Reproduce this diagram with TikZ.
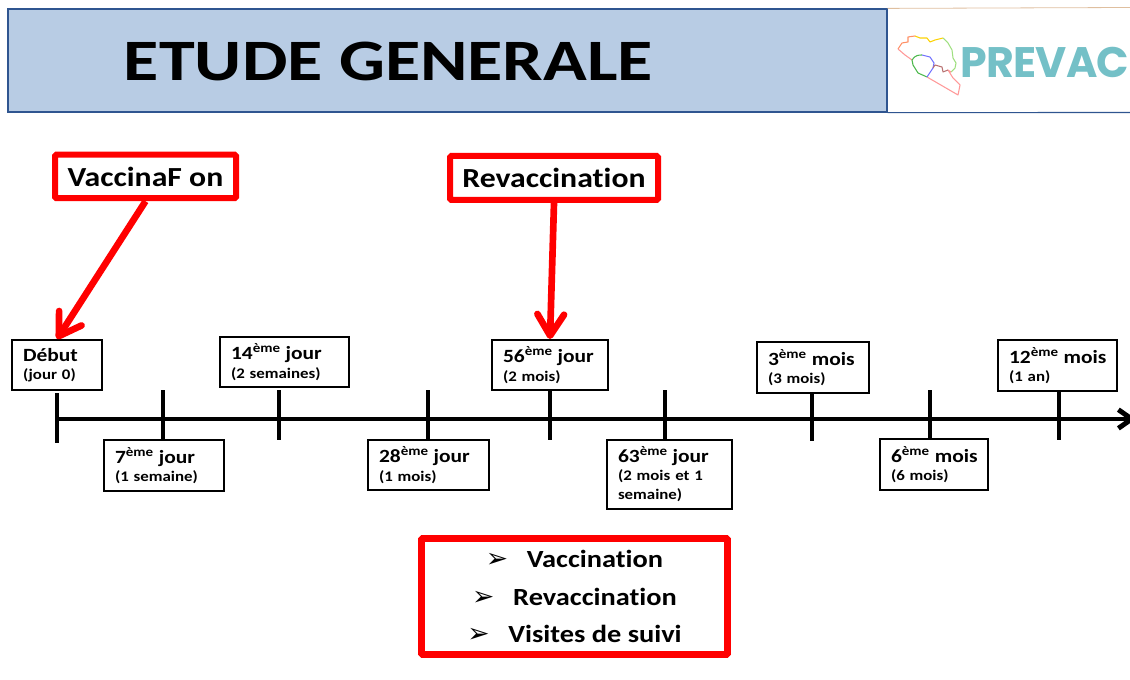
\documentclass[tikz,border=0pt]{standalone}
\usepackage{fontspec}
\setmainfont[FakeStretch=1.15,Ligatures=NoCommon]{Carlito}
\newfontfamily\titlefont[FakeStretch=1.23,Ligatures=NoCommon]{Carlito}
\newfontfamily\logofont[LetterSpace=-2]{Poppins}
\newfontfamily\symbfont{DejaVu Sans}
\usetikzlibrary{arrows.meta}
\definecolor{titlefill}{HTML}{B8CCE4}
\definecolor{titleline}{HTML}{2F5590}
\definecolor{logoteal}{HTML}{74C0C7}
\newcommand{\eme}{\textsuperscript{ème}}
\newcommand{\bigline}[1]{\mbox{\fontsize{14pt}{13.8pt}\selectfont #1}}
\newcommand{\smallline}[1]{\mbox{\fontsize{11pt}{13.8pt}\selectfont #1}}
\newcommand{\listarrow}{{\symbfont\bfseries\fontsize{20pt}{28pt}\selectfont ➢}\hspace{14pt}}

\begin{document}
\begin{tikzpicture}
			[x=0.75pt,y=-0.75pt,
			 datebox/.style 2 args={draw=black,line width=1.5pt,fill=white,font=\fontsize{11pt}{13.8pt}\selectfont\bfseries,align=left,
			 	inner ysep=0pt,inner xsep=8.25pt,text width={(#1-22)*0.75pt},minimum height={#2*0.75pt}},
			 redbox/.style={draw=red,line width=4.5pt,fill=white,rounded corners=1pt,font=\fontsize{20.7pt}{24pt}\selectfont\bfseries},
			 redarrow/.style={draw=red,line width=5pt,-{Straight Barb[length=16pt,width=20pt,round]}},
			 axisline/.style={line width=3.7pt,black},
			 logoline/.style={line width=0.8pt,line join=round}]

			\useasboundingbox (0,0) rectangle (1130,680);

			% banner
			\node[draw=titleline,line width=0.9pt,fill=titlefill,minimum width=879*0.75pt,minimum height=103*0.75pt] (banner) at (447.5,60.5) {};
			\node[font=\titlefont\fontsize{44pt}{48pt}\selectfont\bfseries] (title) at (388.5,61) {ETUDE GENERALE};
			\draw[line width=0.8pt,titleline] (banner.south east) -- (1130,112.5);
			\draw[line width=0.6pt,brown!50] (banner.north east) -- (1130,7.5);

			% logo
			\draw[logoline,red!45!orange!60] (898,49) -- (902,43) -- (908,42) -- (908,37) -- (915,36);
			\draw[logoline,yellow!70!orange] (915,36) -- (920,38) -- (927,38) -- (930,42) -- (935,40) -- (943,38);
			\draw[logoline,green!50!olive!50] (943,38) -- (948,43) -- (952,50) -- (953,58) -- (956,63) -- (955,68) -- (951,72);
			\draw[logoline,red!40] (951,72) -- (948,70) -- (953,78) -- (960,85) -- (958,95) -- (927,77);
			\draw[logoline,red!40] (898,49) -- (905,55) -- (912,60);
			\draw[logoline,green!60!black!70] (912,60) -- (913,65) -- (918,73) -- (927,77);
			\draw[logoline,green!60!black!70] (912,60) .. controls (915,55) and (919,55) .. (922,55);
			\draw[logoline,blue!55] (922,55) -- (930,57) -- (934,63) -- (933,68) -- (927,77);
			\draw[logoline,red!50!black!55] (933,68) -- (935,65) -- (942,67) -- (943,72) -- (948,70);
			\node[font=\logofont\bfseries\fontsize{32pt}{36pt}\selectfont,text=logoteal,inner sep=0pt] (logo) at (1045,62) {PREVAC};

			% callouts
			\node[redbox,minimum width=181*0.75pt,minimum height=43.5*0.75pt] (vaccination) at (145.5,176.5) {VaccinaF on};
			\node[redbox,minimum width=208*0.75pt,minimum height=44*0.75pt] (revaccination) at (554,178) {Revaccination};

			% time axis
			\coordinate (axisstart) at (57,419);
			\coordinate (axisend) at (1136,419);
			\draw[axisline,-{Straight Barb[length=10pt,width=14pt]}] (axisstart) -- (axisend);
			\draw[axisline] (57,393) -- (57,443);
			\draw[axisline] (163,390) -- (163,440);
			\draw[axisline] (279,390) -- (279,440);
			\draw[axisline] (428,390) -- (428,440);
			\draw[axisline] (550,390) -- (550,440);
			\draw[axisline] (665,390) -- (665,440);
			\draw[axisline] (812,391) -- (812,441);
			\draw[axisline] (930,390) -- (930,440);
			\draw[axisline] (1059,390) -- (1059,440);

			% dates
			\node[datebox={90}{50}] (jour0) at (57,365) {\bigline{Début}\\\smallline{(jour 0)}};
			\node[datebox={120}{51}] (jour7) at (164,465.5) {\bigline{7\eme{} jour}\\\smallline{(1 semaine)}};
			\node[datebox={129}{50}] (jour14) at (284.5,362) {\bigline{14\eme{} jour}\\\smallline{(2 semaines)}};
			\node[datebox={121}{50}] (jour28) at (428.5,465) {\bigline{28\eme{} jour}\\\smallline{(1 mois)}};
			\node[datebox={116}{50}] (jour56) at (550,365) {\bigline{56\eme{} jour}\\\smallline{(2 mois)}};
			\node[datebox={125}{69}] (jour63) at (669.5,474) {\bigline{63\eme{} jour}\\\smallline{(2 mois et 1}\\\smallline{semaine)}};
			\node[datebox={112}{51}] (mois3) at (813,367.5) {\bigline{3\eme{} mois}\\\smallline{(3 mois)}};
			\node[datebox={108}{51}] (mois6) at (934,464.5) {\bigline{6\eme{} mois}\\\smallline{(6 mois)}};
			\node[datebox={119}{51}] (mois12) at (1057.5,365.5) {\bigline{12\eme{} mois}\\\smallline{(1 an)}};

			% connectors
			\draw[redarrow] (vaccination.south) -- (jour0.north);
			\draw[redarrow] (revaccination.south) -- (jour56.north);

			% summary
			\node[draw=red,line width=5.2pt,fill=white,rounded corners=1pt,minimum width=306*0.75pt,minimum height=116*0.75pt,
				align=center,font=\fontsize{18.5pt}{28pt}\selectfont\bfseries] (summary) at (574.5,596.5)
				{\listarrow Vaccination\\\listarrow Revaccination\\\listarrow Visites de suivi};
		\end{tikzpicture}
\end{document}
